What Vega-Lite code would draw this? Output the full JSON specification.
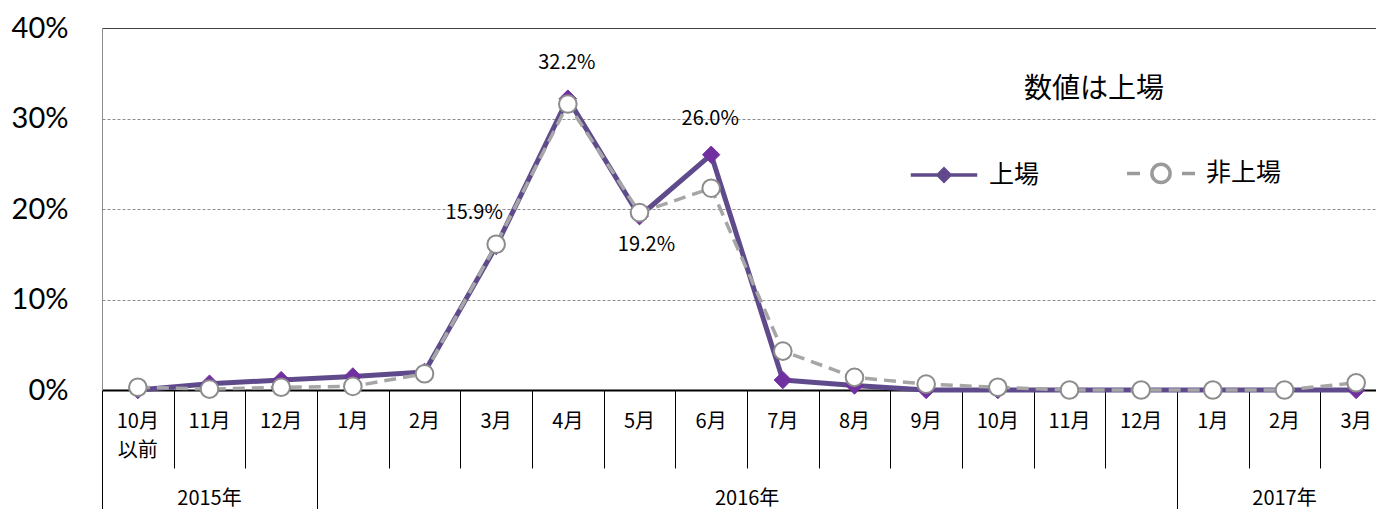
{
  "$schema": "https://vega.github.io/schema/vega-lite/v6.json",
  "width": 1290,
  "height": 362,
  "autosize": {"type": "none"},
  "padding": {"left": 102, "top": 28, "right": -16, "bottom": 119},
  "background": "white",
  "config": {"view": {"stroke": null}, "font": "Noto Sans CJK JP"},
  "data": {
    "values": [
      {"key": "2015-10", "series": "上場", "value": 0.0},
      {"key": "2015-11", "series": "上場", "value": 0.007},
      {"key": "2015-12", "series": "上場", "value": 0.011},
      {"key": "2016-01", "series": "上場", "value": 0.015},
      {"key": "2016-02", "series": "上場", "value": 0.02},
      {"key": "2016-03", "series": "上場", "value": 0.159},
      {"key": "2016-04", "series": "上場", "value": 0.322},
      {"key": "2016-05", "series": "上場", "value": 0.192},
      {"key": "2016-06", "series": "上場", "value": 0.26},
      {"key": "2016-07", "series": "上場", "value": 0.011},
      {"key": "2016-08", "series": "上場", "value": 0.005},
      {"key": "2016-09", "series": "上場", "value": 0.0},
      {"key": "2016-10", "series": "上場", "value": 0.0},
      {"key": "2016-11", "series": "上場", "value": 0.0},
      {"key": "2016-12", "series": "上場", "value": 0.0},
      {"key": "2017-01", "series": "上場", "value": 0.0},
      {"key": "2017-02", "series": "上場", "value": 0.0},
      {"key": "2017-03", "series": "上場", "value": 0.0},
      {"key": "2015-10", "series": "非上場", "value": 0.003},
      {"key": "2015-11", "series": "非上場", "value": 0.001},
      {"key": "2015-12", "series": "非上場", "value": 0.003},
      {"key": "2016-01", "series": "非上場", "value": 0.004},
      {"key": "2016-02", "series": "非上場", "value": 0.018},
      {"key": "2016-03", "series": "非上場", "value": 0.161},
      {"key": "2016-04", "series": "非上場", "value": 0.316},
      {"key": "2016-05", "series": "非上場", "value": 0.196},
      {"key": "2016-06", "series": "非上場", "value": 0.223},
      {"key": "2016-07", "series": "非上場", "value": 0.043},
      {"key": "2016-08", "series": "非上場", "value": 0.014},
      {"key": "2016-09", "series": "非上場", "value": 0.0065},
      {"key": "2016-10", "series": "非上場", "value": 0.003},
      {"key": "2016-11", "series": "非上場", "value": 0.0},
      {"key": "2016-12", "series": "非上場", "value": 0.0},
      {"key": "2017-01", "series": "非上場", "value": 0.0},
      {"key": "2017-02", "series": "非上場", "value": 0.0},
      {"key": "2017-03", "series": "非上場", "value": 0.008}
    ]
  },
  "encoding": {
    "y": {
      "field": "value", "type": "quantitative",
      "scale": {"domain": [0, 0.4], "nice": false, "zero": true},
      "axis": {
        "orient": "left", "title": null, "values": [0, 0.1, 0.2, 0.3, 0.4], "format": ".0%",
        "labelFont": "Lato", "labelFontSize": 29, "labelColor": "#000000", "labelPadding": 34,
        "ticks": false, "domain": true, "domainColor": "#8C8C8C", "domainWidth": 1,
        "grid": true,
        "gridColor": {"condition": {"test": "datum.value > 0.35", "value": "#000000"}, "value": "#8C8C8C"},
        "gridDash": {"condition": {"test": "datum.value > 0.35", "value": [1, 0]}, "value": [3, 2]},
        "gridWidth": 1
      }
    }
  },
  "resolve": {"axis": {"x": "independent"}},
  "layer": [
    {
      "transform": [{"filter": "datum.series == '上場'"}],
      "mark": {"type": "line", "color": "#5F4B8B", "strokeWidth": 5, "strokeJoin": "round"},
      "encoding": {
        "x": {
          "field": "key", "type": "ordinal",
          "scale": {"type": "band", "paddingInner": 0, "paddingOuter": 0,
            "domain": ["2015-10","2015-11","2015-12","2016-01","2016-02","2016-03","2016-04","2016-05","2016-06","2016-07","2016-08","2016-09","2016-10","2016-11","2016-12","2017-01","2017-02","2017-03"]},
          "axis": {
            "orient": "bottom", "title": null, "grid": false, "labels": false,
            "tickBand": "extent", "ticks": true, "tickColor": "#000000", "tickWidth": 1,
            "tickSize": {"condition": {"test": "datum.extra || indexof(['2015-12','2016-12'], datum.value) >= 0", "value": 119}, "value": 78},
            "domain": true, "domainColor": "#000000", "domainWidth": 2
          }
        }
      }
    },
    {
      "transform": [{"filter": "datum.series == '上場'"}],
      "mark": {"type": "point", "shape": "diamond", "filled": true, "fill": "#7030A0", "stroke": "#7030A0", "strokeWidth": 1, "size": 300, "opacity": 1},
      "encoding": {
        "x": {
          "field": "key", "type": "ordinal",
          "scale": {"type": "band", "paddingInner": 0, "paddingOuter": 0},
          "axis": {
            "orient": "bottom", "title": null, "grid": false, "ticks": false, "domain": false,
            "values": ["2015-11", "2016-06", "2017-02"],
            "labelExpr": "slice(datum.value, 0, 4) + '年'",
            "labelAngle": 0, "labelOverlap": false, "labelBaseline": "top",
            "labelOffset": {"condition": {"test": "datum.value == '2016-06'", "value": 36}, "value": 0},
            "labelFont": "Noto Sans CJK JP", "labelFontSize": 20, "labelColor": "#000000",
            "labelPadding": 98
          }
        }
      }
    },
    {
      "transform": [{"filter": "datum.series == '非上場'"}],
      "mark": {"type": "line", "color": "#A6A6A6", "strokeWidth": 3.5, "strokeDash": [12, 7]},
      "encoding": {
        "x": {
          "field": "key", "type": "ordinal",
          "scale": {"type": "band", "paddingInner": 0, "paddingOuter": 0},
          "axis": {
            "orient": "bottom", "title": null, "grid": false, "ticks": false, "domain": false,
            "labels": true, "labelAngle": 0, "labelOverlap": false, "labelBaseline": "top",
            "labelExpr": "datum.value == '2015-10' ? ['10月','以前'] : toNumber(slice(datum.value, 5)) + '月'",
            "labelFont": "Noto Sans CJK JP", "labelFontSize": 20, "labelColor": "#000000",
            "labelPadding": 21, "labelLineHeight": 29
          }
        }
      }
    },
    {
      "transform": [{"filter": "datum.series == '非上場'"}],
      "mark": {"type": "point", "shape": "circle", "filled": true, "fill": "#FFFFFF", "stroke": "#8C8C8C", "strokeWidth": 2, "size": 310, "opacity": 1},
      "encoding": {
        "x": {"field": "key", "type": "ordinal", "scale": {"type": "band", "paddingInner": 0, "paddingOuter": 0}, "axis": null}
      }
    },
    {
      "mark": {"type": "point", "filled": true, "opacity": 0},
      "encoding": {
        "x": {"field": "key", "type": "ordinal", "scale": {"type": "band", "paddingInner": 0, "paddingOuter": 0}, "axis": null},
        "shape": {
          "field": "series", "type": "nominal",
          "scale": {"domain": ["上場", "非上場"], "range": ["M-0.95,0H0.95M0,-0.17L0.17,0L0,0.17L-0.17,0Z", "M-0.97,0H-0.6M0.6,0H0.97M0.26,0A0.26,0.26 0 1,1 -0.26,0A0.26,0.26 0 1,1 0.26,0Z"]},
          "legend": {
            "title": "数値は上場", "orient": "none", "legendX": 805, "legendY": 48,
            "direction": "horizontal", "columns": 2, "columnPadding": 80,
            "symbolSize": 4900, "symbolOpacity": 1, "symbolFillColor": "#7030A0", "symbolStrokeColor": "#5F4B8B", "symbolStrokeWidth": 3.5,
            "labelOffset": 8, "padding": 0,
            "labelFont": "Noto Sans CJK JP", "labelFontSize": 25, "labelColor": "#000000", "labelLimit": 300,
            "titleFont": "Noto Sans CJK JP", "titleFontSize": 28, "titleFontWeight": "normal", "titleColor": "#000000",
            "titleAnchor": "middle", "titlePadding": 32, "titleLimit": 400,
            "encode": {"title": {"dx": {"value": -9}}}
          }
        },
        "fill": {
          "field": "series", "type": "nominal",
          "scale": {"domain": ["上場", "非上場"], "range": ["#7030A0", "#FFFFFF"]},
          "legend": {
            "title": "数値は上場", "orient": "none", "legendX": 805, "legendY": 48,
            "direction": "horizontal", "columns": 2, "columnPadding": 80,
            "symbolSize": 4900, "symbolOpacity": 1, "symbolFillColor": "#7030A0", "symbolStrokeColor": "#5F4B8B", "symbolStrokeWidth": 3.5,
            "labelOffset": 8, "padding": 0,
            "labelFont": "Noto Sans CJK JP", "labelFontSize": 25, "labelColor": "#000000", "labelLimit": 300,
            "titleFont": "Noto Sans CJK JP", "titleFontSize": 28, "titleFontWeight": "normal", "titleColor": "#000000",
            "titleAnchor": "middle", "titlePadding": 32, "titleLimit": 400,
            "encode": {"title": {"dx": {"value": -9}}}
          }
        },
        "stroke": {
          "field": "series", "type": "nominal",
          "scale": {"domain": ["上場", "非上場"], "range": ["#5F4B8B", "#9A9A9A"]},
          "legend": {
            "title": "数値は上場", "orient": "none", "legendX": 805, "legendY": 48,
            "direction": "horizontal", "columns": 2, "columnPadding": 80,
            "symbolSize": 4900, "symbolOpacity": 1, "symbolFillColor": "#7030A0", "symbolStrokeColor": "#5F4B8B", "symbolStrokeWidth": 3.5,
            "labelOffset": 8, "padding": 0,
            "labelFont": "Noto Sans CJK JP", "labelFontSize": 25, "labelColor": "#000000", "labelLimit": 300,
            "titleFont": "Noto Sans CJK JP", "titleFontSize": 28, "titleFontWeight": "normal", "titleColor": "#000000",
            "titleAnchor": "middle", "titlePadding": 32, "titleLimit": 400,
            "encode": {"title": {"dx": {"value": -9}}}
          }
        }
      }
    },
    {
      "transform": [{"filter": "datum.series == '上場' && (datum.key == '2016-04' || datum.key == '2016-06')"}],
      "mark": {"type": "text", "dx": -1, "dy": -36, "fontSize": 20, "font": "Noto Sans CJK JP", "color": "#000000"},
      "encoding": {
        "x": {"field": "key", "type": "ordinal", "scale": {"type": "band", "paddingInner": 0, "paddingOuter": 0}, "axis": null},
        "text": {"field": "value", "type": "quantitative", "format": ".1%"}
      }
    },
    {
      "transform": [{"filter": "datum.series == '上場' && datum.key == '2016-03'"}],
      "mark": {"type": "text", "dx": -22, "dy": -33, "fontSize": 20, "font": "Noto Sans CJK JP", "color": "#000000"},
      "encoding": {
        "x": {"field": "key", "type": "ordinal", "scale": {"type": "band", "paddingInner": 0, "paddingOuter": 0}, "axis": null},
        "text": {"field": "value", "type": "quantitative", "format": ".1%"}
      }
    },
    {
      "transform": [{"filter": "datum.series == '上場' && datum.key == '2016-05'"}],
      "mark": {"type": "text", "dx": 7, "dy": 29, "fontSize": 20, "font": "Noto Sans CJK JP", "color": "#000000"},
      "encoding": {
        "x": {"field": "key", "type": "ordinal", "scale": {"type": "band", "paddingInner": 0, "paddingOuter": 0}, "axis": null},
        "text": {"field": "value", "type": "quantitative", "format": ".1%"}
      }
    }
  ]
}
